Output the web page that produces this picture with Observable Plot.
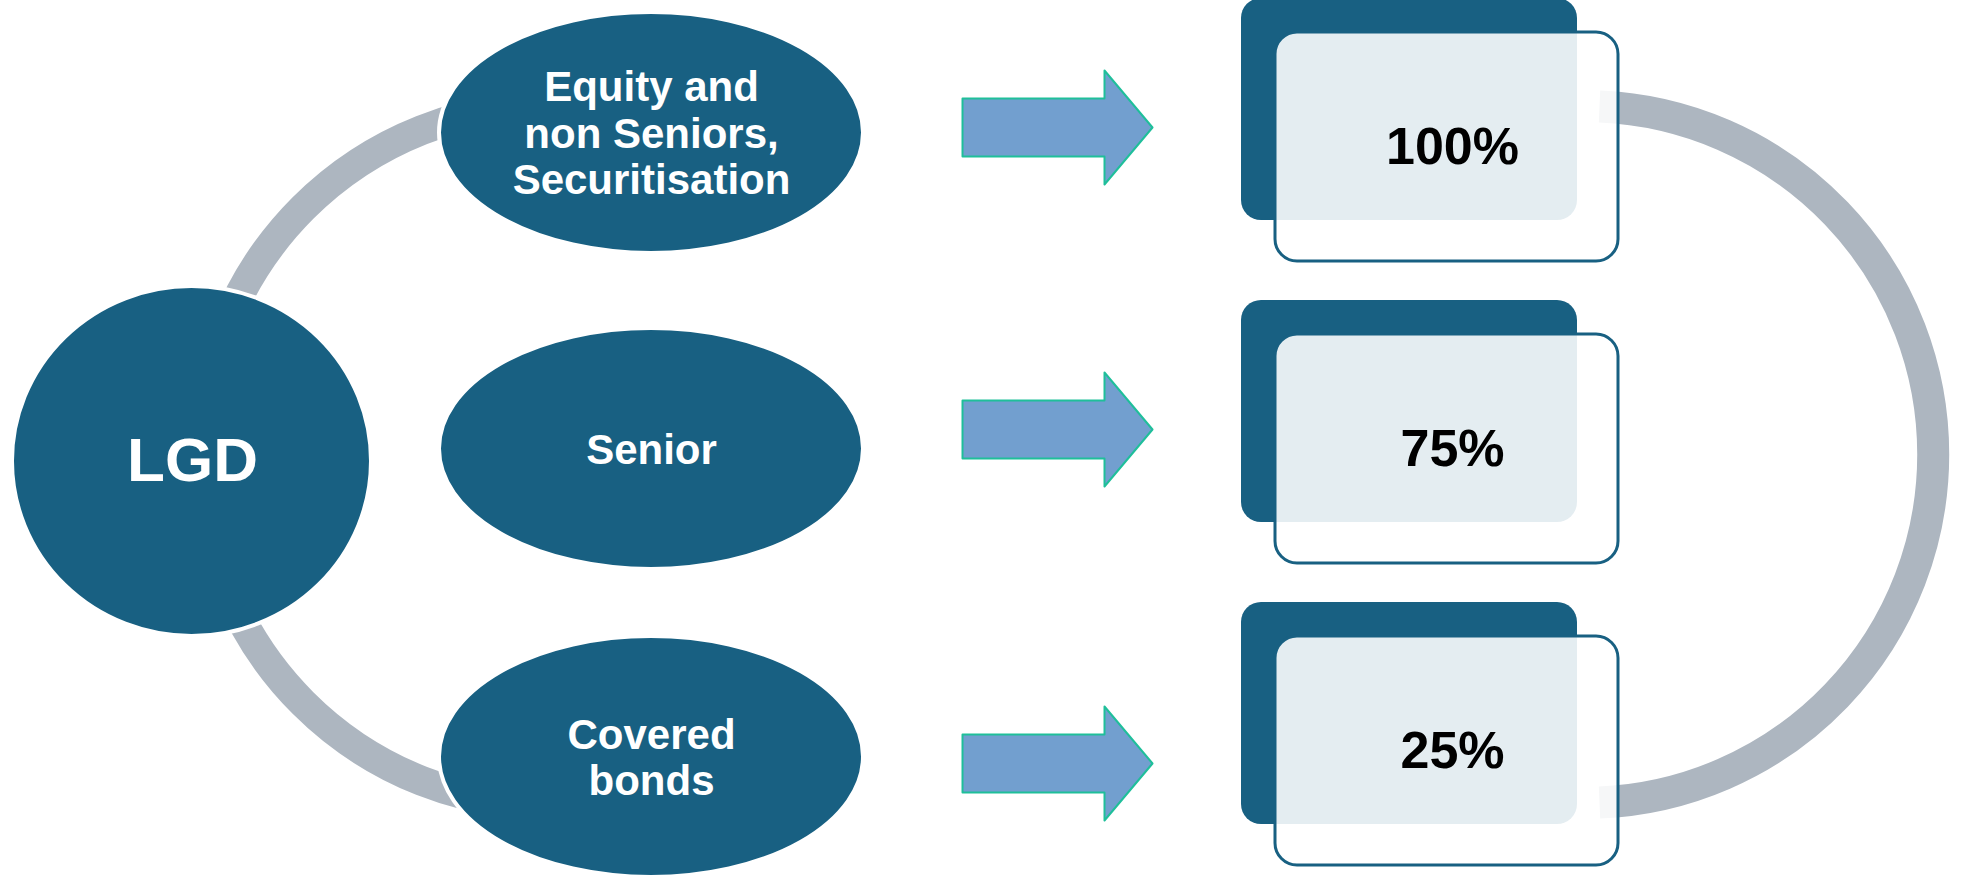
<!DOCTYPE html>
<html><head><meta charset="utf-8">
<script src="https://cdn.jsdelivr.net/npm/d3@7"></script>
<script src="https://cdn.jsdelivr.net/npm/@observablehq/plot@0.6"></script>
<style>html,body{margin:0;padding:0;background:#fff;overflow:hidden}</style>
</head><body><div id="chart"></div>
<script>
// ---- data ----
const rootLabel = "LGD";
const categories = ["Equity and\nnon Seniors,\nSecuritisation", "Senior", "Covered\nbonds"];
const lgdValues = [100, 75, 25];

// ---- layout (pixels) ----
const W = 1968, H = 878;
const DARK = "#186082", GREY = "#adb6c0";
const ellipseCX = 651, ellipseRX = 212, ellipseRY = 120.5;
const ellipseCY = [132.5, 448.5, 756.5];
const arrowCY = [127, 429, 763];
const boxTop = [-2, 300, 602];
const root = {x1: 12, x2: 371, y1: 286, y2: 636, cx: 192, cy: 461};

const nodes = categories.map((label, i) => ({
  label, x1: ellipseCX - ellipseRX, x2: ellipseCX + ellipseRX,
  y1: ellipseCY[i] - ellipseRY, y2: ellipseCY[i] + ellipseRY, cx: ellipseCX, cy: ellipseCY[i]
}));
const boxes = lgdValues.map((value, i) => ({
  value, top: boxTop[i],
  dx1: 1241, dx2: 1577, dy1: boxTop[i], dy2: boxTop[i] + 222,
  ox1: 1275, ox2: 1618, oy1: boxTop[i] + 34, oy2: boxTop[i] + 263,
  tx: 1452, ty: boxTop[i] + 148.5
}));
const arrowPts = arrowCY.flatMap((cy, row) => [
  [962, cy - 29], [1104, cy - 29], [1104, cy - 57], [1152, cy],
  [1104, cy + 57], [1104, cy + 29], [962, cy + 29]
].map(([x, y]) => ({row, x, y})));
const leftArcs = [
  {x1: 200, y1: 455, x2: 550, y2: 105},
  {x1: 550, y1: 805, x2: 200, y2: 455}
];
const rightArc = [{x1: 1599, y1: 106, x2: 1599, y2: 802}];

const chart = Plot.plot({
  width: W, height: H, margin: 0,
  x: {domain: [0, W], range: [0, W], axis: null},
  y: {domain: [0, H], range: [0, H], axis: null},
  style: {fontFamily: "'Liberation Sans', Arial, sans-serif", background: "#fff"},
  marks: [
    Plot.arrow(leftArcs, {x1: "x1", y1: "y1", x2: "x2", y2: "y2", bend: 45, headLength: 0,
      stroke: GREY, strokeWidth: 30, strokeLinecap: "butt"}),
    Plot.rect([root], {x1: "x1", x2: "x2", y1: "y1", y2: "y2", rx: 1000, ry: 1000,
      fill: DARK, stroke: "#fff", strokeWidth: 4}),
    Plot.rect(nodes, {x1: "x1", x2: "x2", y1: "y1", y2: "y2", rx: 1000, ry: 1000,
      fill: DARK, stroke: "#fff", strokeWidth: 4}),
    Plot.line(arrowPts, {x: "x", y: "y", z: "row", curve: "linear-closed",
      fill: "#729fcf", stroke: "#1fbf9a", strokeWidth: 2}),
    Plot.arrow(rightArc, {x1: "x1", y1: "y1", x2: "x2", y2: "y2", bend: 87.6, headLength: 0,
      stroke: GREY, strokeWidth: 32, strokeLinecap: "butt"}),
    Plot.rect(boxes, {x1: "dx1", x2: "dx2", y1: "dy1", y2: "dy2", rx: 20, ry: 20, fill: DARK}),
    Plot.rect(boxes, {x1: "ox1", x2: "ox2", y1: "oy1", y2: "oy2", rx: 22, ry: 22,
      fill: "#fff", fillOpacity: 0.885, stroke: DARK, strokeWidth: 3}),
    Plot.text([root], {x: "cx", y: "cy", text: () => rootLabel, fill: "#fff",
      fontSize: 62, fontWeight: "bold"}),
    Plot.text(nodes, {x: "cx", y: "cy", text: "label", fill: "#fff",
      fontSize: 42, fontWeight: "bold", lineHeight: 1.107}),
    Plot.text(boxes, {x: "tx", y: "ty", text: d => d.value + "%", fill: "#000",
      fontSize: 52, fontWeight: "bold"})
  ]
});
document.getElementById("chart").appendChild(chart);
</script>
</body></html>
